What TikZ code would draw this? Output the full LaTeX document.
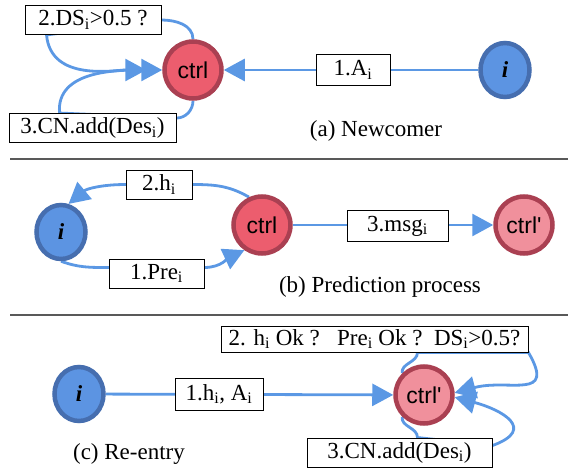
\documentclass[tikz,border=0pt]{standalone}
\usepackage{fontspec}
\setmainfont{Liberation Serif}
\setsansfont{Liberation Sans}
\usetikzlibrary{arrows.meta,shapes.geometric,calc,backgrounds}
\definecolor{linkblue}{RGB}{91,152,228}
\definecolor{ctrlred}{RGB}{236,93,110}
\definecolor{ctrlpink}{RGB}{240,144,156}
\definecolor{ctrlrim}{RGB}{170,64,82}
\definecolor{userblue}{RGB}{92,148,226}
\definecolor{userrim}{RGB}{70,110,175}

\begin{document}
\begin{tikzpicture}[
  x=1pt, y=1pt,
  ctrl/.style={circle, draw=ctrlrim, fill=ctrlred, line width=4.5pt, minimum size=57pt, inner sep=0pt, font=\sffamily\fontsize{23}{26}\selectfont},
  ctrlnew/.style={ctrl, fill=ctrlpink},
  user/.style={ellipse, draw=userrim, fill=userblue, line width=4.5pt, minimum width=49pt, minimum height=54pt, inner sep=0pt, font=\bfseries\itshape\fontsize{23}{26}\selectfont},
  box/.style={draw, fill=white, line width=0.9pt, inner sep=1pt, minimum height=29pt, font=\fontsize{23}{26}\selectfont},
  caption/.style={font=\fontsize{23}{26}\selectfont},
  link/.style={draw=linkblue, line width=2.8pt},
  arrow/.style={link, -{Triangle[length=21pt, width=22pt]}},
  rule/.style={draw=black!65, line width=1.2pt}
]
\useasboundingbox (0,0) rectangle (568,467);

% (a) Newcomer
\node[ctrl] (ctrlA) at (193,397) {ctrl};
\node[user] (userA) at (505,397) {i};
\node[box, minimum width=74pt, minimum height=31pt] (aiA) at (353,397) {1.A\textsubscript{i}};
\node[box, minimum width=136pt] (dsA) at (93,447) {2.DS\textsubscript{i}>0.5 ?};
\node[box, minimum width=167pt] (cnA) at (92.5,339) {3.CN.add(Des\textsubscript{i})};
\node[caption] (capA) at (376,336) {(a) Newcomer};

% (b) Prediction process
\node[user] (userB) at (61,235) {i};
\node[ctrl] (ctrlB) at (262,242) {ctrl};
\node[ctrlnew] (nextB) at (524,242) {ctrl\textquotesingle};
\node[box, minimum width=66pt] (hB) at (159,282.5) {2.h\textsubscript{i}};
\node[box, minimum width=95pt] (preB) at (156.5,193.5) {1.Pre\textsubscript{i}};
\node[box, minimum width=101pt, minimum height=31pt] (msgB) at (397.5,241) {3.msg\textsubscript{i}};
\node[caption] (capB) at (380,180) {(b) Prediction process};

% (c) Re-entry
\node[user] (userC) at (79,73) {i};
\node[ctrlnew] (ctrlC) at (424,72) {ctrl\textquotesingle};
\node[box, minimum width=88pt, minimum height=32pt] (haC) at (219,73) {1.h\textsubscript{i}, A\textsubscript{i}};
\node[box, minimum width=307pt, minimum height=26pt] (okC) at (374.5,128) {2. h\textsubscript{i} Ok ?\ \ \ Pre\textsubscript{i} Ok ?\ \ DS\textsubscript{i}>0.5?};
\node[box, minimum width=185pt] (cnC) at (399.5,14.5) {3.CN.add(Des\textsubscript{i})};
\node[caption] (capC) at (129,13) {(c) Re-entry};

% panel rules
\draw[rule] (10,308) -- (568,308);
\draw[rule] (10,152) -- (568,152);

\begin{scope}[on background layer]
  \draw[arrow] (userA) -- (ctrlA);
  \draw[arrow, shorten >=16pt] (ctrlA.north) to[out=90,in=0] (dsA.east) -- ($(dsA.south west)+(22,0)$) to[out=-85,in=180] (ctrlA.west);
  \draw[arrow] (ctrlA.south) to[out=-90,in=0] ($(cnA.north east)+(0,-5)$) -- ($(cnA.north west)+(51,0)$) to[out=95,in=180] (ctrlA.west);

  \draw[arrow] (ctrlB.115) to[out=150,in=0] (hB.east) -- (hB.west) to[out=180,in=40] (userB.75);
  \draw[arrow] (userB.south) to[out=-20,in=180] ($(preB.west)+(0,6)$) -- ($(preB.east)+(0,6)$) to[out=0,in=205] (ctrlB.235);
  \draw[arrow] (ctrlB) -- (nextB);

  \draw[arrow] (userC) -- (ctrlC);
  \draw[arrow] (ctrlC.135) to[out=100,in=-90] ($(okC.south)+(43,0)$) -- (okC.south east) to[out=-60,in=15, looseness=1.7] (ctrlC.4);
  \draw[arrow] (ctrlC.225) to[out=-100,in=90] ($(cnC.north)+(18,0)$) -- ($(cnC.north east)+(0,-8)$) to[out=20,in=-15, looseness=2] (ctrlC.-4);
\end{scope}
\end{tikzpicture}
\end{document}
